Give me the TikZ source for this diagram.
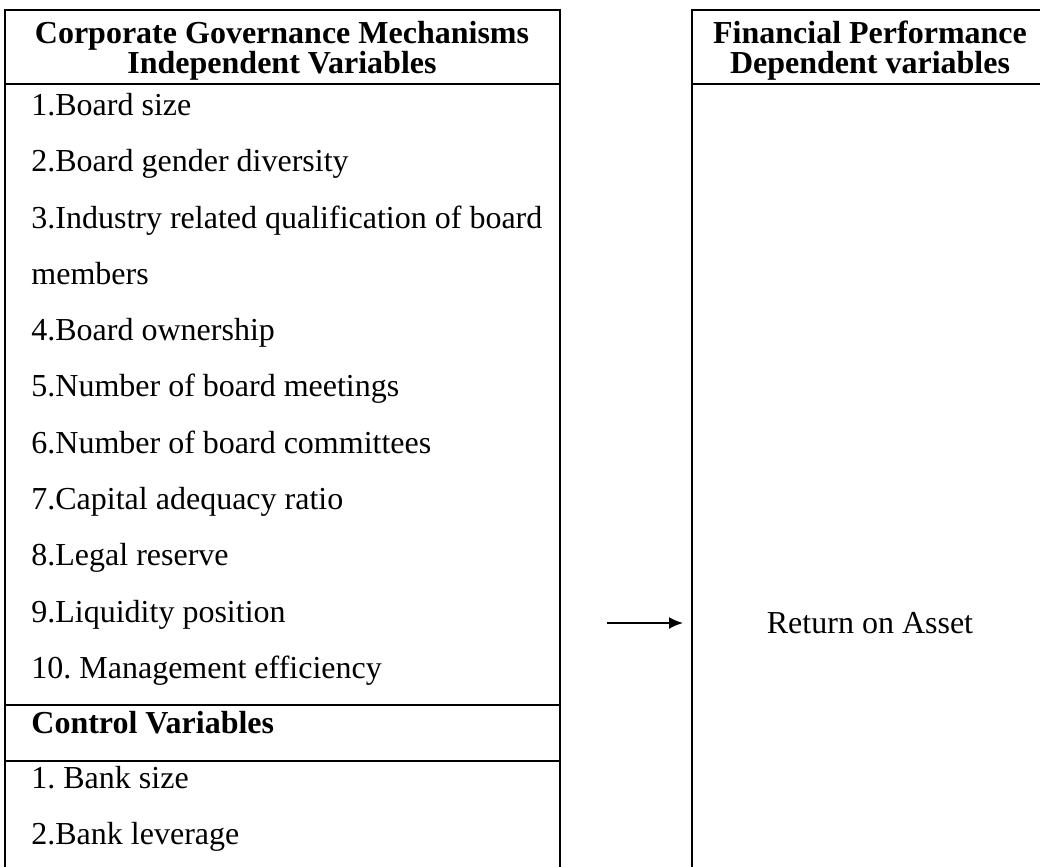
\documentclass[tikz,border=0pt]{standalone}
\usepackage{fontspec}
\setmainfont{Liberation Serif}
\usetikzlibrary{arrows.meta}
\begin{document}
\begin{tikzpicture}[x=0.5pt,y=-0.5pt,
  frame/.style={line width=1.1pt},
  item/.style={anchor=base west, inner sep=0pt, font=\fontsize{16}{19}\selectfont},
  head/.style={anchor=base, inner sep=0pt, font=\fontsize{16}{19}\selectfont\bfseries},
  plain/.style={anchor=base, inner sep=0pt, font=\fontsize{16}{19}\selectfont},
  link/.style={line width=1pt, -{Latex[length=7pt,width=6pt]}}]
\useasboundingbox (0,0) rectangle (1040,867);
\begin{scope}
  \clip (0,0) rectangle (1040,867);
  % left table: mechanisms and control variables
  \draw[frame] (5,10) rectangle (560,900);
  \draw[frame] (5,84) -- (560,84);
  \draw[frame] (5,705) -- (560,705);
  \draw[frame] (5,761) -- (560,761);
  % right table: performance measure
  \draw[frame] (692,10) rectangle (1050,900);
  \draw[frame] (692,84) -- (1050,84);
\end{scope}

% headings
\node[head] (hL1) at (282,43) {Corporate Governance Mechanisms};
\node[head] (hL2) at (282,73) {Independent Variables};
\node[head] (hR1) at (870,43) {Financial Performance};
\node[head] (hR2) at (870,73) {Dependent variables};

% independent variables
\node[item] (v1) at (31,115) {1.Board size};
\node[item] (v2) at (31,171) {2.Board gender diversity};
\node[item] (v3) at (31,228) {3.Industry related qualification of board};
\node[item] (v3b) at (31,284) {members};
\node[item] (v4) at (31,340) {4.Board ownership};
\node[item] (v5) at (31,396) {5.Number of board meetings};
\node[item] (v6) at (31,453) {6.Number of board committees};
\node[item] (v7) at (31,509) {7.Capital adequacy ratio};
\node[item] (v8) at (31,565) {8.Legal reserve};
\node[item] (v9) at (31,622) {9.Liquidity position};
\node[item] (v10) at (31,678) {10.\ Management efficiency};

% control variables
\node[item, font=\fontsize{16}{19}\selectfont\bfseries] (cH) at (31,733) {Control Variables};
\node[item] (c1) at (31,788) {1.\ Bank size};
\node[item] (c2) at (31,844) {2.Bank leverage};

% dependent variable
\node[plain] (roa) at (870,633) {Return on Asset};

% relation arrow
\coordinate (aS) at (607,623);
\coordinate (aE) at (683,623);
\draw[link] (aS) -- (aE);
\end{tikzpicture}
\end{document}
